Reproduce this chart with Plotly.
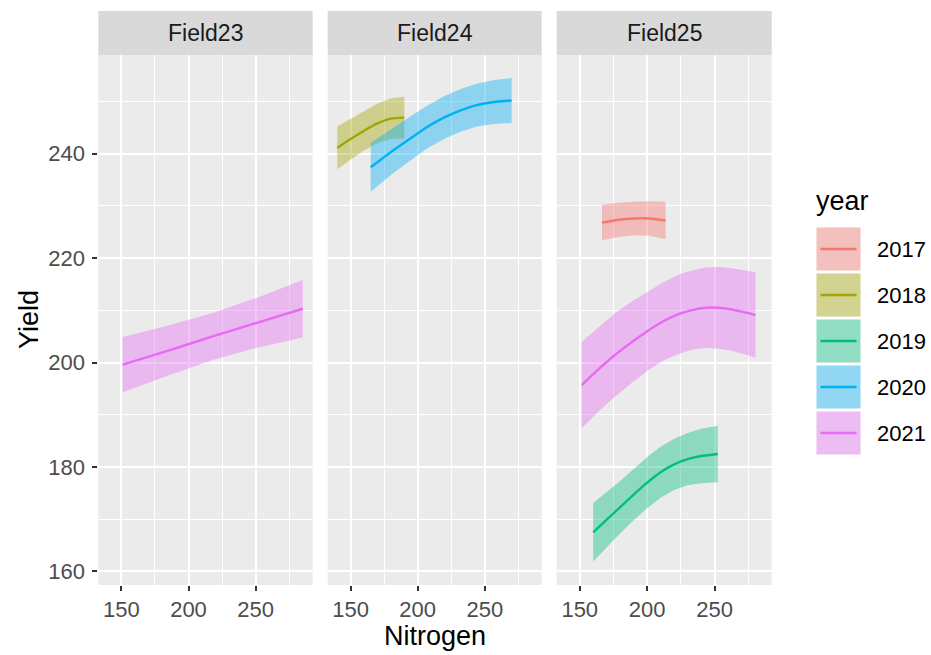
import plotly.graph_objects as go

W, H = 931, 655

years = ["2017", "2018", "2019", "2020", "2021"]
year_colors = ["#F8766D", "#A3A500", "#00BF7D", "#00B0F6", "#E76BF3"]
fields = ["Field23", "Field24", "Field25"]

x_ticks = [150, 200, 250]
x_minor = [175, 225, 275]
y_ticks = [160, 180, 200, 220, 240]
y_minor = [170, 190, 210, 230, 250]

# Field23 / 2021
f23_2021_n = [151, 185, 218, 252, 285]
f23_2021_fit = [199.6, 202.3, 205.0, 207.7, 210.3]
f23_2021_lo = [194.3, 197.5, 200.5, 202.9, 204.8]
f23_2021_hi = [204.9, 207.1, 209.5, 212.5, 215.8]

# Field24 / 2018
f24_2018_n = [140, 150, 160, 170, 180, 190]
f24_2018_fit = [241.1, 242.8, 244.4, 245.8, 246.7, 246.9]
f24_2018_lo = [237.0, 238.9, 240.6, 242.0, 242.8, 242.9]
f24_2018_hi = [245.2, 246.7, 248.2, 249.6, 250.6, 250.9]

# Field24 / 2020
f24_2020_n = [165, 180, 194.5, 207, 219.5, 232, 244, 257, 270]
f24_2020_fit = [237.4, 240.3, 242.9, 245.1, 246.9, 248.3, 249.3, 249.9, 250.2]
f24_2020_lo = [232.7, 235.9, 238.7, 241.0, 242.8, 244.2, 245.2, 245.7, 245.9]
f24_2020_hi = [242.1, 244.7, 247.1, 249.2, 251.0, 252.4, 253.4, 254.1, 254.5]

# Field25 / 2017
f25_2017_n = [166.5, 178, 190, 202, 213.7]
f25_2017_fit = [226.8, 227.3, 227.6, 227.6, 227.2]
f25_2017_lo = [223.4, 224.0, 224.4, 224.3, 223.6]
f25_2017_hi = [230.2, 230.6, 230.8, 230.9, 230.8]

# Field25 / 2019
f25_2019_n = [160, 170, 180, 190, 200, 210, 220, 230, 240, 252.4]
f25_2019_fit = [167.5, 169.9, 172.3, 174.7, 177.0, 179.0, 180.5, 181.5, 182.1, 182.5]
f25_2019_lo = [161.9, 164.6, 167.3, 169.8, 172.1, 174.1, 175.6, 176.5, 176.9, 177.1]
f25_2019_hi = [173.1, 175.2, 177.3, 179.6, 181.9, 183.9, 185.4, 186.5, 187.3, 187.9]

# Field25 / 2021
f25_2021_n = [151.5, 163, 175.4, 188, 200.1, 212, 224.8, 234, 243.3, 252, 261.8, 271, 280.4]
f25_2021_fit = [195.7, 198.5, 201.3, 203.8, 206.0, 207.9, 209.4, 210.1, 210.5, 210.5, 210.2, 209.7, 209.1]
f25_2021_lo = [187.4, 190.4, 193.3, 196.0, 198.4, 200.4, 201.8, 202.5, 202.8, 202.7, 202.3, 201.7, 200.9]
f25_2021_hi = [204.0, 206.6, 209.3, 211.6, 213.6, 215.4, 217.0, 217.7, 218.2, 218.3, 218.1, 217.7, 217.3]

series = [
    (0, "2021", f23_2021_n, f23_2021_fit, f23_2021_lo, f23_2021_hi),
    (1, "2018", f24_2018_n, f24_2018_fit, f24_2018_lo, f24_2018_hi),
    (1, "2020", f24_2020_n, f24_2020_fit, f24_2020_lo, f24_2020_hi),
    (2, "2017", f25_2017_n, f25_2017_fit, f25_2017_lo, f25_2017_hi),
    (2, "2019", f25_2019_n, f25_2019_fit, f25_2019_lo, f25_2019_hi),
    (2, "2021", f25_2021_n, f25_2021_fit, f25_2021_lo, f25_2021_hi),
]


def rgba(hexc, a):
    h = hexc.lstrip("#")
    r, g, b = int(h[0:2], 16), int(h[2:4], 16), int(h[4:6], 16)
    return f"rgba({r},{g},{b},{a})"


def px_x(p):
    return p / W


def px_y(p):
    return 1 - p / H


FONT = "Liberation Sans, Arial, Helvetica, sans-serif"

panel_x = [(98.3, 312.7), (327.7, 541.7), (556.7, 771.7)]
panel_top, panel_bot = 55, 585
strip_top = 11

fig = go.Figure()

for pi, yr, n, fit, lo, hi in series:
    col = year_colors[years.index(yr)]
    xa = "x" if pi == 0 else f"x{pi + 1}"
    ya = "y" if pi == 0 else f"y{pi + 1}"
    fig.add_trace(go.Scatter(
        x=list(n) + list(n)[::-1], y=list(hi) + list(lo)[::-1],
        fill="toself", fillcolor=rgba(col, 0.4), line=dict(width=0),
        mode="lines", xaxis=xa, yaxis=ya, showlegend=False, hoverinfo="skip"))
    fig.add_trace(go.Scatter(
        x=n, y=fit, mode="lines",
        line=dict(color=col, width=2.4, shape="spline", smoothing=0.7),
        xaxis=xa, yaxis=ya, showlegend=False, name=yr))

layout = dict(
    width=W, height=H,
    margin=dict(l=0, r=0, t=0, b=0),
    paper_bgcolor="white", plot_bgcolor="#EBEBEB",
    font=dict(family=FONT),
    showlegend=False,
)

for i in range(3):
    suffix = "" if i == 0 else str(i + 1)
    anchor_y = "y" if i == 0 else f"y{i + 1}"
    anchor_x = "x" if i == 0 else f"x{i + 1}"
    layout["xaxis" + suffix] = dict(
        domain=[px_x(panel_x[i][0]), px_x(panel_x[i][1])],
        range=[132.9, 292.4], tickmode="array", tickvals=x_ticks,
        showgrid=True, gridcolor="white", gridwidth=2, zeroline=False,
        minor=dict(tickmode="array", tickvals=x_minor, showgrid=True,
                   gridcolor="white", gridwidth=1, ticks=""),
        ticks="outside", ticklen=5, tickwidth=2, tickcolor="#333333",
        tickfont=dict(size=22, color="#4D4D4D", family=FONT),
        anchor=anchor_y, showline=False, fixedrange=True,
    )
    layout["yaxis" + suffix] = dict(
        domain=[px_y(panel_bot), px_y(panel_top)],
        range=[157.4, 258.9], tickmode="array", tickvals=y_ticks,
        showgrid=True, gridcolor="white", gridwidth=2, zeroline=False,
        minor=dict(tickmode="array", tickvals=y_minor, showgrid=True,
                   gridcolor="white", gridwidth=1, ticks=""),
        ticks="outside" if i == 0 else "", ticklen=5, tickwidth=2, tickcolor="#333333",
        showticklabels=(i == 0), ticklabelstandoff=3,
        tickfont=dict(size=22, color="#4D4D4D", family=FONT),
        anchor=anchor_x, showline=False, fixedrange=True,
    )

shapes = []
annotations = []
for i, f in enumerate(fields):
    x0, x1 = panel_x[i]
    shapes.append(dict(type="rect", xref="paper", yref="paper",
                       x0=px_x(x0), x1=px_x(x1), y0=px_y(panel_top), y1=px_y(strip_top),
                       fillcolor="#D9D9D9", line=dict(width=0), layer="below"))
    annotations.append(dict(text=f, xref="paper", yref="paper",
                            x=px_x((x0 + x1) / 2), y=px_y((strip_top + panel_top) / 2),
                            xanchor="center", yanchor="middle", showarrow=False,
                            font=dict(size=23, color="#1A1A1A", family=FONT)))

# axis titles
annotations.append(dict(text="Nitrogen", xref="paper", yref="paper",
                        x=px_x((98.3 + 771.7) / 2), y=px_y(636), xanchor="center", yanchor="middle",
                        showarrow=False, font=dict(size=27, color="black", family=FONT)))
annotations.append(dict(text="Yield", xref="paper", yref="paper",
                        x=px_x(29), y=px_y((panel_top + panel_bot) / 2), xanchor="center", yanchor="middle",
                        textangle=-90, showarrow=False, font=dict(size=27, color="black", family=FONT)))

# legend (drawn as ggplot-style keys)
annotations.append(dict(text="year", xref="paper", yref="paper",
                        x=px_x(814), y=px_y(201), xanchor="left", yanchor="middle",
                        showarrow=False, font=dict(size=27, color="black", family=FONT)))
key_x0, key_x1 = 816.5, 860.5
key_top0, key_pitch, key_h = 227.5, 46.0, 43.0
for k, (yr, col) in enumerate(zip(years, year_colors)):
    t = key_top0 + k * key_pitch
    b = t + key_h
    shapes.append(dict(type="rect", xref="paper", yref="paper",
                       x0=px_x(key_x0), x1=px_x(key_x1), y0=px_y(b), y1=px_y(t),
                       fillcolor="#F2F2F2", line=dict(width=0)))
    shapes.append(dict(type="rect", xref="paper", yref="paper",
                       x0=px_x(key_x0), x1=px_x(key_x1), y0=px_y(b), y1=px_y(t),
                       fillcolor=rgba(col, 0.4), line=dict(width=0)))
    shapes.append(dict(type="line", xref="paper", yref="paper",
                       x0=px_x(key_x0 + 4), x1=px_x(key_x1 - 4),
                       y0=px_y((t + b) / 2), y1=px_y((t + b) / 2),
                       line=dict(color=col, width=2.4)))
    annotations.append(dict(text=yr, xref="paper", yref="paper",
                            x=px_x(875), y=px_y((t + b) / 2), xanchor="left", yanchor="middle",
                            showarrow=False, font=dict(size=22, color="black", family=FONT)))

layout["shapes"] = shapes
layout["annotations"] = annotations
fig.update_layout(**layout)

fig.write_html(
    "out.html",
    config={"displayModeBar": False, "staticPlot": True},
    post_script="document.body.style.margin='0';document.body.style.padding='0';"
                "document.body.style.overflow='hidden';",
)
